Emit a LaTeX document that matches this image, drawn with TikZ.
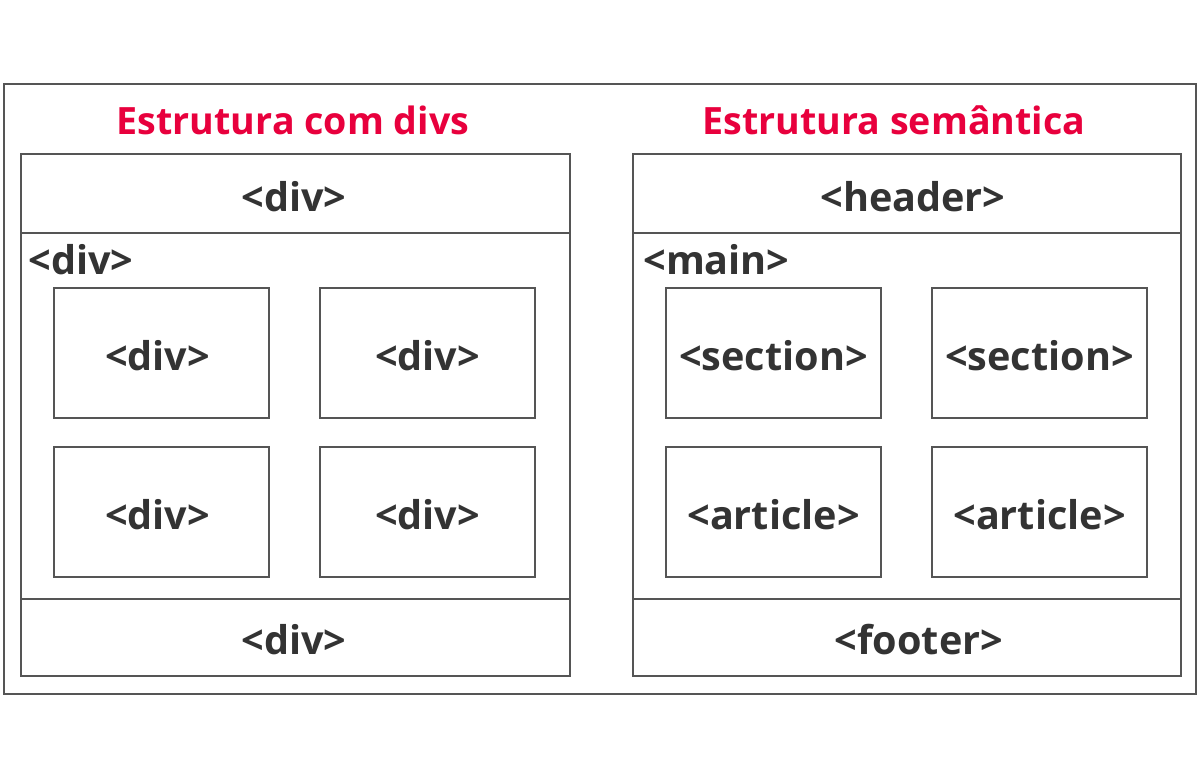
\documentclass[tikz,border=0pt]{standalone}
\usepackage{fontspec}
\setmainfont{Open Sans}
\definecolor{linegray}{HTML}{555555}
\definecolor{txt}{HTML}{333333}
\definecolor{titred}{HTML}{E8003D}
\begin{document}
\begin{tikzpicture}[x=0.5pt,y=-0.5pt,
  box/.style={draw=linegray,line width=0.7pt},
  lbl/.style={font=\bfseries\fontsize{19.8}{23}\selectfont,text=txt,inner sep=0pt},
  ttl/.style={font=\bfseries\fontsize{18.8}{22}\selectfont,text=titred,inner sep=0pt}]
\useasboundingbox (0,0) rectangle (1200,780);
\fill[white] (0,0) rectangle (1200,780);
% outer frame
\draw[box] (4,84) rectangle (1196,694);
% titles
\node[ttl] (t1) at (293,120) {Estrutura com divs};
\node[ttl] (t2) at (894,120) {Estrutura semântica};
% left panel
\draw[box] (21,154) rectangle (570,676);
\draw[box] (21,233) -- (570,233);
\draw[box] (21,599) -- (570,599);
\node[lbl] (lh) at (294,197) {<div>};
\node[lbl] (lf) at (294,640) {<div>};
\node[lbl,anchor=west] (lm) at (28,260) {<div>};
\draw[box] (54,288) rectangle (269,418);
\draw[box] (320,288) rectangle (535,418);
\draw[box] (54,447) rectangle (269,577);
\draw[box] (320,447) rectangle (535,577);
\node[lbl] (l1) at (157.5,356) {<div>};
\node[lbl] (l2) at (427.5,356) {<div>};
\node[lbl] (l3) at (157.5,515) {<div>};
\node[lbl] (l4) at (427.5,515) {<div>};
% right panel
\draw[box] (633,154) rectangle (1181,676);
\draw[box] (633,233) -- (1181,233);
\draw[box] (633,599) -- (1181,599);
\node[lbl] (rh) at (913,197) {<header>};
\node[lbl] (rf) at (919,640) {<footer>};
\node[lbl,anchor=west] (rm) at (643,260) {<main>};
\draw[box] (666,288) rectangle (881,418);
\draw[box] (932,288) rectangle (1147,418);
\draw[box] (666,447) rectangle (881,577);
\draw[box] (932,447) rectangle (1147,577);
\node[lbl] (r1) at (773.5,356) {<section>};
\node[lbl] (r2) at (1039.5,356) {<section>};
\node[lbl] (r3) at (773.5,515) {<article>};
\node[lbl] (r4) at (1039.5,515) {<article>};
\end{tikzpicture}
\end{document}
